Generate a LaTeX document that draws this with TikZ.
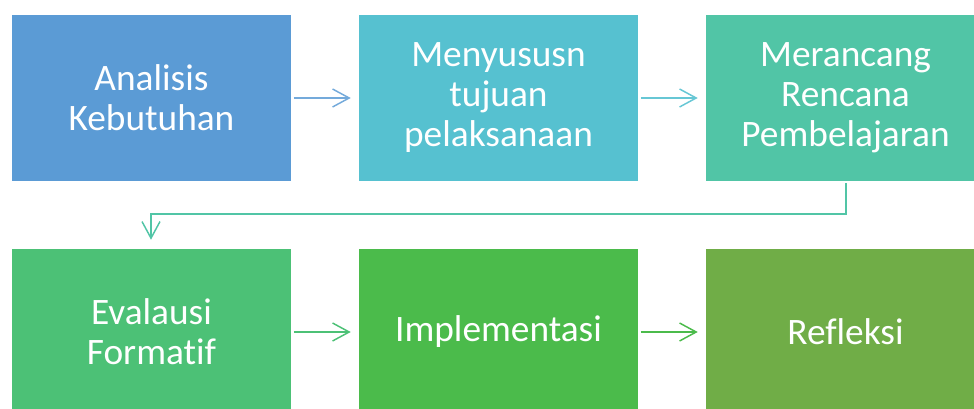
\documentclass[tikz,border=0pt]{standalone}
\usepackage{fontspec}
\setmainfont{Carlito}[Ligatures={NoCommon}]
\usetikzlibrary{arrows.meta}
\definecolor{cA}{HTML}{5B9BD5}
\definecolor{cB}{HTML}{56C1D0}
\definecolor{cC}{HTML}{51C5A6}
\definecolor{cD}{HTML}{4CC176}
\definecolor{cE}{HTML}{4BBB4B}
\definecolor{cF}{HTML}{70AD47}
\tikzset{
  stepbox/.style={draw=none, minimum width=279*0.75pt, minimum height=166*0.75pt,
    inner sep=0pt, align=center, text=white, font=\fontsize{28}{30}\selectfont},
  link/.style={line width=1.1pt, -{Straight Barb[length=12.5pt, width=13.5pt, line width=1.1pt]}},
}
\begin{document}
\begin{tikzpicture}[x=0.75pt, y=-0.75pt]
\useasboundingbox (0,0) rectangle (974,409);
\clip (0,0) rectangle (974,409);
\fill[white] (0,0) rectangle (974,409);
% top row
\node[stepbox, fill=cA] (a) at (151.5,98) {Analisis\\Kebutuhan};
\node[stepbox, fill=cB] (b) at (498.5,98) {Menyususn\\tujuan\\pelaksanaan};
\node[stepbox, fill=cC] (c) at (845.5,98) {Merancang\\Rencana\\Pembelajaran};
% bottom row
\node[stepbox, fill=cD] (d) at (151.5,332) {Evalausi\\Formatif};
\node[stepbox, fill=cE] (e) at (498.5,332) {Implementasi};
\node[stepbox, fill=cF] (f) at (845.5,332) {Refleksi};
% connectors
\draw[link, draw=cA!85] ([xshift=2.5*0.75pt]a.east) -- ([xshift=-8*0.75pt]b.west);
\draw[link, draw=cB!90] ([xshift=2.5*0.75pt]b.east) -- ([xshift=-8*0.75pt]c.west);
\coordinate (turnR) at (846,214);
\coordinate (turnL) at (151,214);
\draw[link, draw=cC] ([yshift=-2*0.75pt]c.south -| turnR) -- (turnR) -- (turnL) -- ([yshift=9*0.75pt]d.north -| turnL);
\draw[link, draw=cD] ([xshift=2.5*0.75pt]d.east) -- ([xshift=-8*0.75pt]e.west);
\draw[link, draw=cE] ([xshift=2.5*0.75pt]e.east) -- ([xshift=-8*0.75pt]f.west);
\end{tikzpicture}
\end{document}
